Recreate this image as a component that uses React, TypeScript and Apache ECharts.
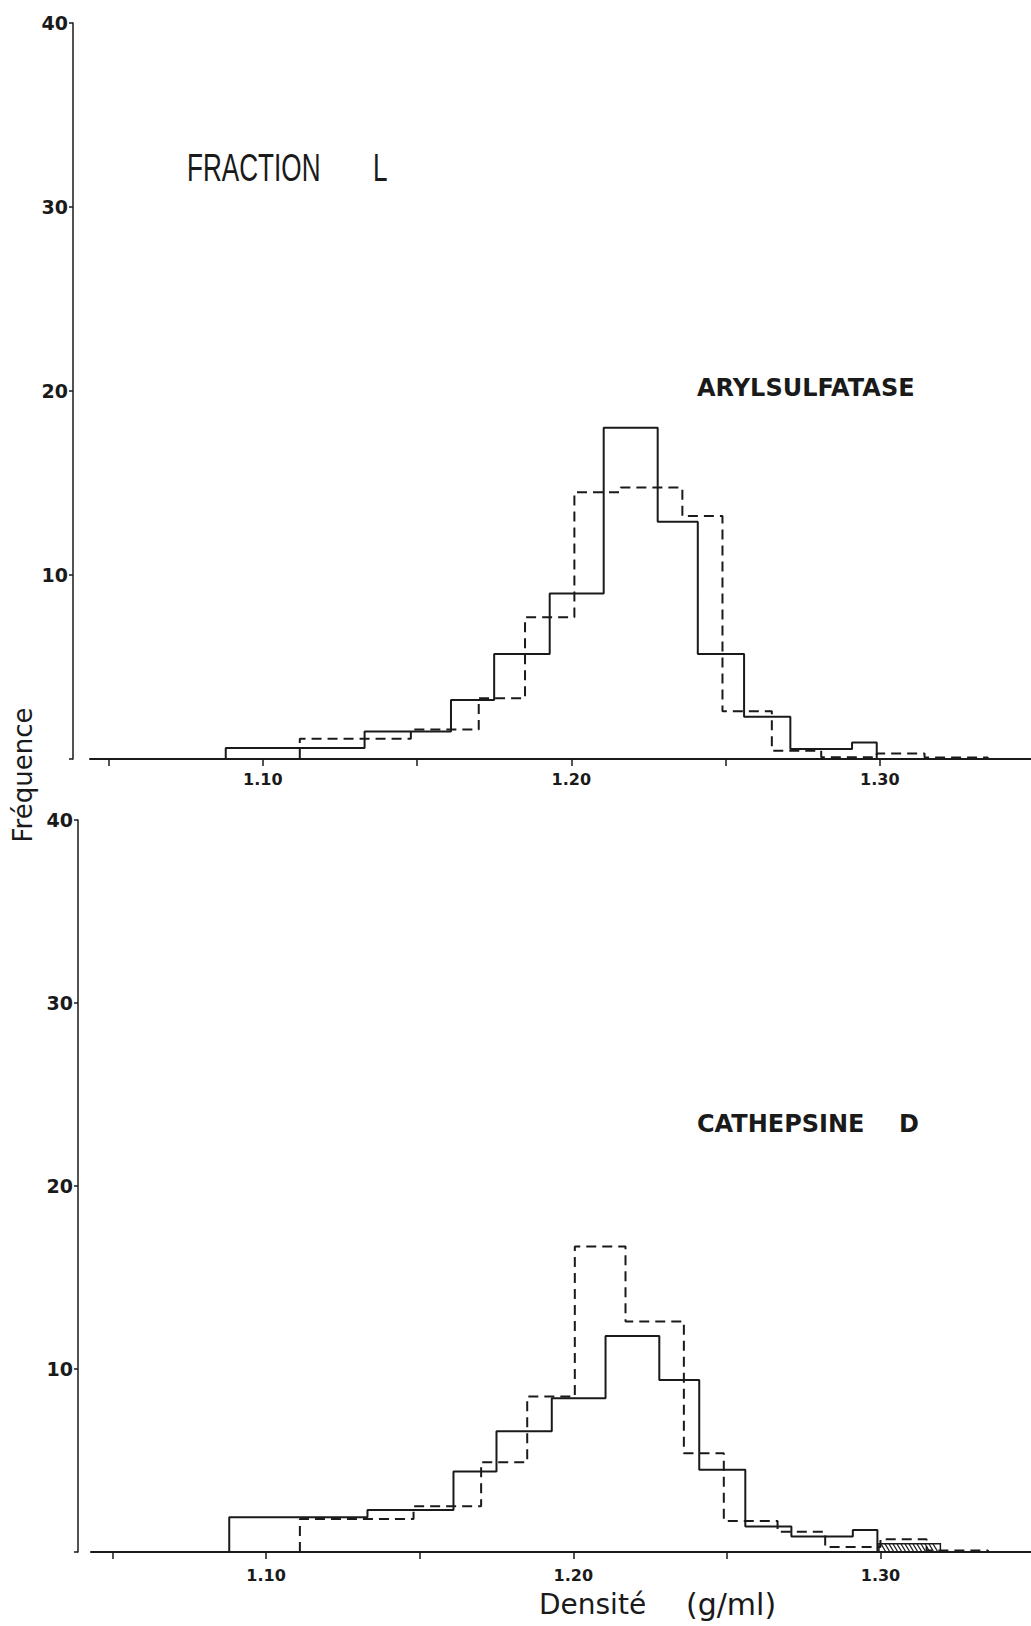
import React, { useEffect, useRef } from "react";
import * as echarts from "echarts";

// ---- data ----
const xTickValues = [1.05, 1.1, 1.15, 1.2, 1.25, 1.3];
const xLabelValues = [1.1, 1.2, 1.3];

// solid histogram bin edges (both panels)
const solidEdges = [1.088, 1.133, 1.161, 1.175, 1.193, 1.2105, 1.228, 1.241, 1.256, 1.271, 1.291, 1.299];
// dashed histogram bin edges
const dashedEdgesTop = [1.112, 1.148, 1.17, 1.185, 1.201, 1.216, 1.236, 1.249, 1.265, 1.281, 1.299, 1.3145, 1.335];
const dashedEdgesBottom = [1.111, 1.148, 1.17, 1.185, 1.2005, 1.217, 1.236, 1.249, 1.2665, 1.282, 1.3, 1.315, 1.335];

// ARYLSULFATASE
const arylSolid = [0.6, 1.5, 3.2, 5.7, 9.0, 18.0, 12.9, 5.7, 2.3, 0.55, 0.9];
const arylDashed = [1.1, 1.6, 3.3, 7.7, 14.5, 14.75, 13.2, 2.6, 0.45, 0.1, 0.3, 0.08];

// CATHEPSINE D
const cathSolid = [1.9, 2.3, 4.4, 6.6, 8.4, 11.8, 9.4, 4.5, 1.4, 0.85, 1.2];
const cathDashed = [1.8, 2.5, 4.9, 8.5, 16.7, 12.6, 5.4, 1.7, 1.1, 0.27, 0.7, 0.08];
const cathHatched = [[1.2995, 1.3195, 0.45]];

const INK = "#1a1a1a";

function stepData(edges: number[], values: number[]) {
  const d: number[][] = [[edges[0], 0]];
  values.forEach((v, i) => d.push([edges[i], v]));
  d.push([edges[edges.length - 1], values[values.length - 1]]);
  d.push([edges[edges.length - 1], 0]);
  return d;
}

function xAxisCfg(gridIndex: number, min: number, labelMargin: number) {
  return {
    type: "value",
    gridIndex,
    min,
    max: 1.349,
    axisLine: { show: true, onZero: false, lineStyle: { color: INK, width: 2 } },
    axisTick: { show: true, customValues: xTickValues, length: 7, lineStyle: { color: INK, width: 1.5 } },
    axisLabel: {
      show: true,
      customValues: xLabelValues,
      formatter: (v: number) => v.toFixed(2),
      margin: labelMargin,
      color: INK,
      fontFamily: "DejaVu Sans",
      fontWeight: "bold",
      fontSize: 16,
    },
    splitLine: { show: false },
  };
}

function yAxisCfg(gridIndex: number, offset: number) {
  return {
    type: "value",
    gridIndex,
    min: 0,
    max: 40,
    interval: 10,
    offset,
    axisLine: { show: true, lineStyle: { color: INK, width: 1.5 } },
    axisTick: { show: true, length: 4, lineStyle: { color: INK, width: 1.5 } },
    axisLabel: {
      show: true,
      formatter: (v: number) => (v === 0 ? "" : String(v)),
      margin: 5,
      color: INK,
      fontFamily: "DejaVu Sans",
      fontWeight: "bold",
      fontSize: 19,
    },
    splitLine: { show: false },
  };
}

function stepSeries(idx: number, edges: number[], values: number[], dashed: boolean) {
  return {
    type: "line",
    xAxisIndex: idx,
    yAxisIndex: idx,
    data: stepData(edges, values),
    step: "end",
    symbol: "none",
    silent: true,
    lineStyle: { color: INK, width: 2, type: dashed ? [10, 6] : "solid" },
  };
}

export default function App() {
  const ref = useRef<HTMLDivElement>(null);
  useEffect(() => {
    if (!ref.current) return;
    const chart = echarts.init(ref.current, null, { renderer: "svg" });
    const option: any = {
      animation: false,
      backgroundColor: "#ffffff",
      grid: [
        { left: 90, right: 0, top: 23, height: 736 },
        { left: 91, right: 0, top: 820, height: 732 },
      ],
      xAxis: [xAxisCfg(0, 1.044, 12), xAxisCfg(1, 1.043, 15)],
      yAxis: [yAxisCfg(0, 17), yAxisCfg(1, 13)],
      series: [
        stepSeries(0, solidEdges, arylSolid, false),
        stepSeries(0, dashedEdgesTop, arylDashed, true),
        stepSeries(1, solidEdges, cathSolid, false),
        stepSeries(1, dashedEdgesBottom, cathDashed, true),
        {
          type: "custom",
          xAxisIndex: 1,
          yAxisIndex: 1,
          silent: true,
          data: cathHatched,
          encode: { x: [0, 1], y: 2 },
          renderItem: (params: any, api: any) => {
            const p0 = api.coord([api.value(0), api.value(2)]);
            const p1 = api.coord([api.value(1), 0]);
            const left = p0[0];
            const top = p0[1];
            const right = p1[0];
            const bottom = p1[1];
            const hh = bottom - top;
            const dx = hh * 0.6;
            const children: any[] = [
              {
                type: "rect",
                shape: { x: left, y: top, width: right - left, height: hh },
                style: { fill: "none", stroke: INK, lineWidth: 1.5 },
              },
            ];
            for (let x = left + 2; x + dx <= right; x += 4) {
              children.push({
                type: "line",
                shape: { x1: x, y1: top, x2: x + dx, y2: bottom },
                style: { stroke: INK, lineWidth: 1.3 },
              });
            }
            return { type: "group", children };
          },
        },
      ],
      graphic: [
        {
          type: "text",
          x: 187,
          y: 167,
          scaleX: 0.67,
          style: { text: "FRACTION", fill: INK, font: "normal 39px 'Liberation Sans'", textAlign: "left", textVerticalAlign: "middle" },
        },
        {
          type: "text",
          x: 373,
          y: 167,
          scaleX: 0.67,
          style: { text: "L", fill: INK, font: "normal 39px 'Liberation Sans'", textAlign: "left", textVerticalAlign: "middle" },
        },
        {
          type: "text",
          x: 697,
          y: 388,
          style: { text: "ARYLSULFATASE", fill: INK, font: "bold 24px 'DejaVu Sans'", textAlign: "left", textVerticalAlign: "middle" },
        },
        {
          type: "text",
          x: 697,
          y: 1124,
          style: { text: "CATHEPSINE", fill: INK, font: "bold 24px 'DejaVu Sans'", textAlign: "left", textVerticalAlign: "middle" },
        },
        {
          type: "text",
          x: 899,
          y: 1124,
          style: { text: "D", fill: INK, font: "bold 24px 'DejaVu Sans'", textAlign: "left", textVerticalAlign: "middle" },
        },
        {
          type: "text",
          x: 23,
          y: 775,
          rotation: Math.PI / 2,
          style: { text: "Fréquence", fill: INK, font: "normal 26px 'DejaVu Sans'", textAlign: "center", textVerticalAlign: "middle" },
        },
        {
          type: "text",
          x: 539,
          y: 1604,
          style: { text: "Densité", fill: INK, font: "normal 28px 'DejaVu Sans'", textAlign: "left", textVerticalAlign: "middle" },
        },
        {
          type: "text",
          x: 686,
          y: 1604,
          style: { text: "(g/ml)", fill: INK, font: "normal 30px 'DejaVu Sans'", textAlign: "left", textVerticalAlign: "middle" },
        },
      ],
    };
    chart.setOption(option);
    return () => chart.dispose();
  }, []);
  return (
    <div
      ref={ref}
      style={{ position: "absolute", left: 0, top: 0, width: 1031, height: 1626, background: "#fff" }}
    />
  );
}
